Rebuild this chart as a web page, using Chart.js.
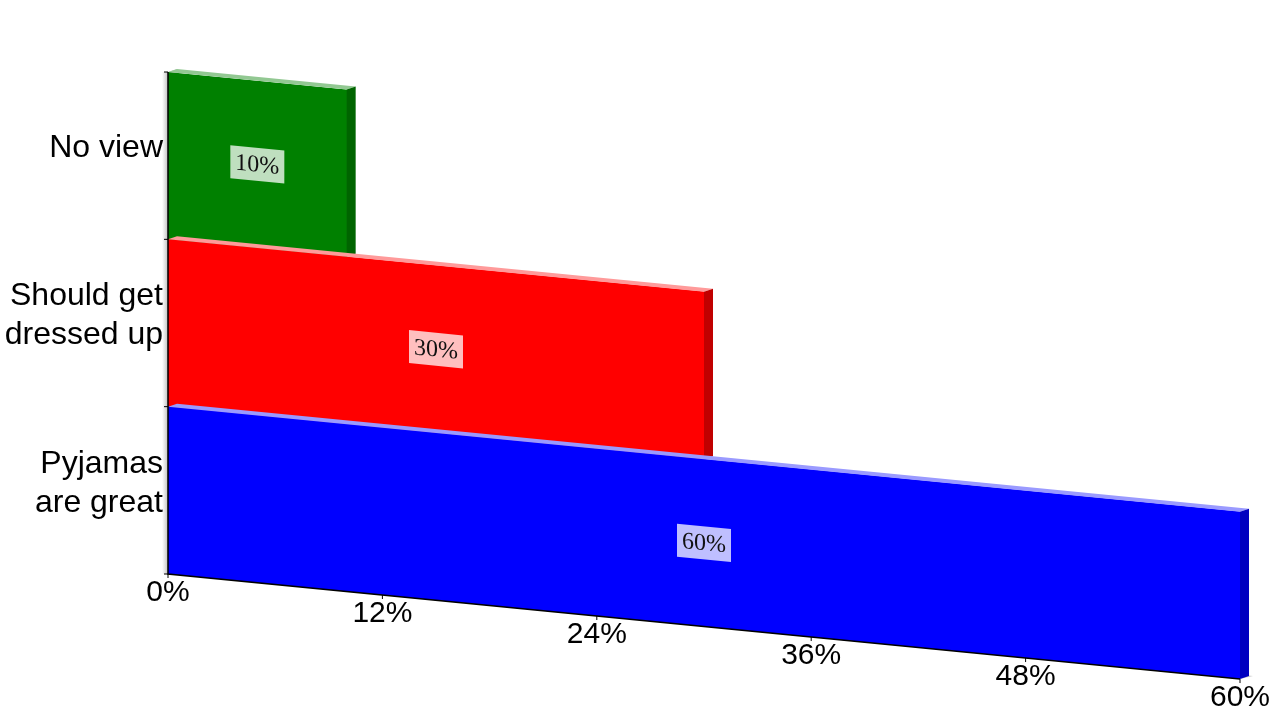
<!DOCTYPE html>
<html>
<head>
<meta charset="utf-8">
<title>Pyjamas</title>
<script src="https://cdn.jsdelivr.net/npm/chart.js@4"></script>
<style>
  body { margin: 0; background: #fff; }
  canvas { display: block; }
</style>
</head>
<body>
<canvas id="chart" width="1280" height="720"></canvas>
<script>
// data
const categories = [['No view'], ['Should get', 'dressed up'], ['Pyjamas', 'are great']];
const shares = [10, 30, 60];
const xTicks = [0, 12, 24, 36, 48, 60];

// colours: front, side, top
const barColors = ['#008000', '#ff0000', '#0000ff'];
const sideColors = ['#006400', '#c00000', '#0000c0'];
const topColors = ['#92c892', '#ff9a9a', '#9a9aff'];

const SKEW = 0.098;       // slope of the fake 3D floor
const DEPTH = [9, -3];    // depth vector in screen pixels

// maps a chart point to the skewed screen point
function sk(chart, x, y) {
    return [x, y + SKEW * (x - chart.chartArea.left)];
}

function poly(ctx, pts, fill) {
    ctx.beginPath();
    ctx.moveTo(pts[0][0], pts[0][1]);
    for (let i = 1; i < pts.length; i++) ctx.lineTo(pts[i][0], pts[i][1]);
    ctx.closePath();
    ctx.fillStyle = fill;
    ctx.fill();
}

const fake3d = {
    id: 'fake3d',
    beforeDatasetsDraw(chart) {
        const ctx = chart.ctx;
        const a = chart.chartArea;
        // back wall edge, left of the axis
        const g = ctx.createLinearGradient(a.left - 6, 0, a.left, 0);
        g.addColorStop(0, 'rgba(200,200,200,0)');
        g.addColorStop(1, 'rgba(190,190,190,1)');
        ctx.fillStyle = g;
        ctx.fillRect(a.left - 6, a.top, 6, a.bottom - a.top);
        poly(ctx, [[a.left, a.top], [a.left + DEPTH[0], a.top + DEPTH[1]],
                   [a.left + DEPTH[0], a.bottom], [a.left, a.bottom]], '#c8c8c8');
        // floor edge at the far right
        const fr = sk(chart, a.right, a.bottom);
        poly(ctx, [[a.left, a.bottom], fr, [fr[0] + DEPTH[0] + 4, fr[1] + DEPTH[1]],
                   [a.left + DEPTH[0], a.bottom + DEPTH[1]]], '#c8c8c8');

        ctx.save();
        ctx.transform(1, SKEW, 0, 1, 0, -SKEW * a.left);
    },
    afterDatasetsDraw(chart) {
        const ctx = chart.ctx;
        ctx.restore();
        const a = chart.chartArea;
        const meta = chart.getDatasetMeta(0);

        // top and side faces
        meta.data.forEach((bar, i) => {
            const p = bar.getProps(['x', 'y', 'base', 'height'], true);
            const top = p.y - p.height / 2, bottom = p.y + p.height / 2;
            const A = sk(chart, p.base, top), B = sk(chart, p.x, top), C = sk(chart, p.x, bottom);
            const d = (q) => [q[0] + DEPTH[0], q[1] + DEPTH[1]];
            poly(ctx, [A, B, d(B), d(A)], topColors[i]);
            poly(ctx, [B, C, d(C), d(B)], sideColors[i]);
        });

        // axes
        ctx.strokeStyle = '#000';
        ctx.lineWidth = 1.5;
        ctx.beginPath();
        ctx.moveTo(a.left, a.top);
        ctx.lineTo(a.left, a.bottom);
        const r = sk(chart, a.right, a.bottom);
        ctx.lineTo(r[0], r[1]);
        ctx.stroke();

        ctx.lineWidth = 1;
        const yScale = chart.scales.y, xScale = chart.scales.x;
        const edges = [a.top];
        for (let i = 0; i < categories.length - 1; i++) {
            edges.push((yScale.getPixelForValue(i) + yScale.getPixelForValue(i + 1)) / 2);
        }
        edges.push(a.bottom);
        ctx.beginPath();
        edges.forEach(y => { ctx.moveTo(a.left - 4, y); ctx.lineTo(a.left, y); });
        xTicks.forEach(v => {
            const q = sk(chart, xScale.getPixelForValue(v), a.bottom);
            ctx.moveTo(q[0], q[1]);
            ctx.lineTo(q[0], q[1] + 4);
        });
        ctx.stroke();

        // data labels
        meta.data.forEach((bar, i) => {
            const p = bar.getProps(['x', 'y', 'base'], true);
            const cx = (p.x + p.base) / 2;
            ctx.save();
            ctx.transform(1, SKEW, 0, 1, 0, -SKEW * a.left);
            ctx.font = '24px "Liberation Serif"';
            const txt = shares[i] + '%';
            const w = ctx.measureText(txt).width + 10, h = 33;
            ctx.fillStyle = 'rgba(255,255,255,0.75)';
            ctx.fillRect(cx - w / 2, p.y - h / 2, w, h);
            ctx.fillStyle = '#111';
            ctx.textAlign = 'center';
            ctx.textBaseline = 'middle';
            ctx.fillText(txt, cx, p.y + 1);
            ctx.restore();
        });

        // category labels
        ctx.fillStyle = '#000';
        ctx.font = '32px "Liberation Sans"';
        ctx.textAlign = 'right';
        ctx.textBaseline = 'middle';
        categories.forEach((lines, i) => {
            const cy = yScale.getPixelForValue(i) - 7;
            const lh = 39;
            lines.forEach((line, j) => {
                ctx.fillText(line, a.left - 5, cy + (j - (lines.length - 1) / 2) * lh);
            });
        });

        // x tick labels
        ctx.font = '30px "Liberation Sans"';
        ctx.textAlign = 'center';
        xTicks.forEach(v => {
            const q = sk(chart, xScale.getPixelForValue(v), a.bottom);
            ctx.fillText(v + '%', q[0], q[1] + 19);
        });
    }
};

new Chart(document.getElementById('chart'), {
    type: 'bar',
    data: {
        labels: categories,
        datasets: [{
            data: shares,
            backgroundColor: barColors,
            borderWidth: 0,
            barPercentage: 1,
            categoryPercentage: 1
        }]
    },
    options: {
        indexAxis: 'y',
        responsive: false,
        animation: false,
        devicePixelRatio: 1,
        layout: { padding: { left: 168, right: 40, top: 72, bottom: 146 } },
        scales: {
            x: { display: false, min: 0, max: 60 },
            y: { display: false }
        },
        plugins: { legend: { display: false }, tooltip: { enabled: false } }
    },
    plugins: [fake3d]
});
</script>
</body>
</html>
